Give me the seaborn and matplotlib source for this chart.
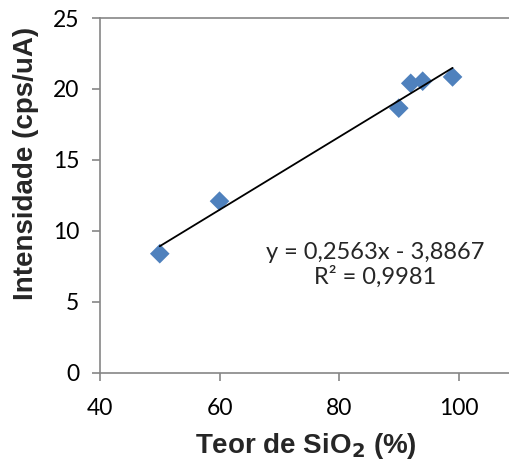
import matplotlib
matplotlib.use("Agg")
import matplotlib.pyplot as plt
import seaborn as sns
import numpy as np
import pandas as pd

# Data
teor_sio2 = [50, 60, 90, 92, 94, 99]
intensidade = [8.4, 12.1, 18.65, 20.4, 20.55, 20.85]
slope = 0.2563
intercept = -3.8867
r2 = 0.9981
x_ticks = [40, 60, 80, 100]
y_ticks = [0, 5, 10, 15, 20, 25]

sns.set_theme(style="white")
plt.rcParams['font.family'] = ['Lato', 'DejaVu Sans']

df = pd.DataFrame({"x": teor_sio2, "y": intensidade})
fit_x = np.array([min(teor_sio2), max(teor_sio2)])
fit_df = pd.DataFrame({"x": fit_x, "y": slope * fit_x + intercept})

fig = plt.figure(figsize=(5.09, 4.70), dpi=100)
ax = fig.add_axes([0.1965, 0.2064, 0.81, 0.7553])

sns.scatterplot(data=df, x="x", y="y", marker="D", s=100, color="#4F81BD",
                edgecolor="none", ax=ax, zorder=2)
sns.lineplot(data=fit_df, x="x", y="y", color="black", linewidth=1.3, ax=ax, zorder=3)

ax.set_xlim(40, 109)
ax.set_ylim(0, 25)
ax.set_xticks(x_ticks)
ax.set_yticks(y_ticks)

gray = "#868686"
for s in ["left", "bottom", "top"]:
    ax.spines[s].set_color(gray)
    ax.spines[s].set_linewidth(1.2)
ax.spines["right"].set_visible(False)
ax.tick_params(axis="both", which="major", direction="out", length=6, width=1.2,
               color=gray, labelsize=16.5, labelcolor="black")
ax.tick_params(axis="x", bottom=True, pad=12)
ax.tick_params(axis="y", left=True, pad=9)

ax.set_xlabel("Teor de SiO$_\\mathbf{2}$ (%)", fontsize=20, fontweight="bold",
              family="Liberation Sans", labelpad=9)
ax.set_ylabel("Intensidade (cps/uA)", fontsize=20, fontweight="bold",
              family="Liberation Sans")
ax.yaxis.set_label_coords(-0.147, 0.59)

ax.text(0.668, 0.34, f"y = {slope:.4f}x - {abs(intercept):.4f}".replace(".", ","),
        transform=ax.transAxes, ha="center", va="center", fontsize=17)
ax.text(0.668, 0.27, f"R² = {r2:.4f}".replace(".", ","),
        transform=ax.transAxes, ha="center", va="center", fontsize=17)

fig.savefig("out.png", dpi=100)
